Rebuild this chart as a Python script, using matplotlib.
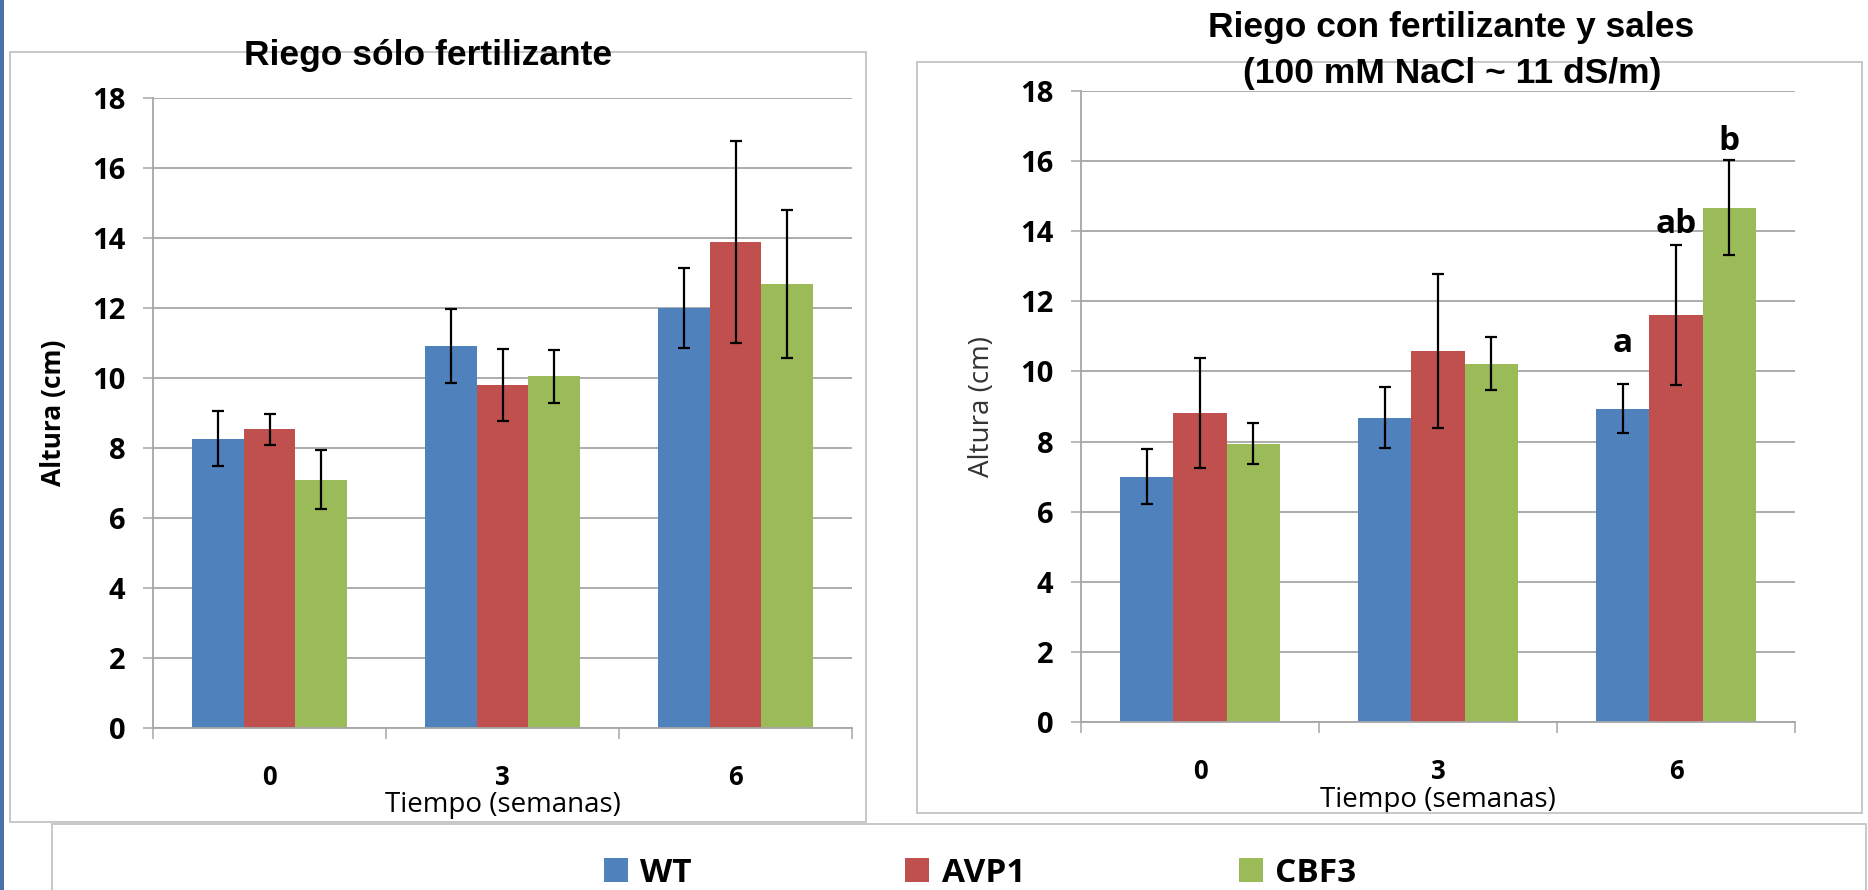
import numpy as np
import matplotlib
matplotlib.use("Agg")
import matplotlib.pyplot as plt
from matplotlib.patches import Rectangle, Patch

# ----------------------------
# Data
# ----------------------------
weeks = ["0", "3", "6"]
series = ["WT", "AVP1", "CBF3"]
colors = ["#4F81BD", "#C0504D", "#9BBB59"]

# Riego solo fertilizante
fert_means = {
    "WT": [8.27, 10.92, 12.0],
    "AVP1": [8.54, 9.8, 13.89],
    "CBF3": [7.09, 10.05, 12.68],
}
fert_err = {
    "WT": [0.78, 1.06, 1.15],
    "AVP1": [0.44, 1.03, 2.88],
    "CBF3": [0.84, 0.75, 2.12],
}

# Riego con fertilizante y sales
salt_means = {
    "WT": [7.0, 8.68, 8.94],
    "AVP1": [8.82, 10.58, 11.6],
    "CBF3": [7.94, 10.22, 14.67],
}
salt_err = {
    "WT": [0.78, 0.87, 0.7],
    "AVP1": [1.57, 2.2, 2.0],
    "CBF3": [0.58, 0.76, 1.36],
}

# letras de significancia (semana 6, panel con sales)
sig_labels = ["a", "ab", "b"]
sig_y = [10.8, 14.2, 16.55]

yticks = [0, 2, 4, 6, 8, 10, 12, 14, 16, 18]

CAL = ["Open Sans", "DejaVu Sans"]
ARIAL = ["Liberation Sans", "DejaVu Sans"]
GRID = "#a6a6a6"

W, H = 1868, 890
fig = plt.figure(figsize=(W / 100, H / 100), dpi=100)


def fx(px):
    return px / W


def fy(py):
    return 1 - py / H


# ----------------------------
# Frames
# ----------------------------
fig.patches.append(Rectangle((0, 0), fx(4), 1, transform=fig.transFigure,
                             facecolor="#4a72a6", edgecolor="none"))
for (x0, y0, x1, y1) in [(10, 52, 866, 822), (917, 62, 1862, 813), (52, 824, 1866, 900)]:
    fig.patches.append(Rectangle((fx(x0), fy(y1)), fx(x1 - x0), (y1 - y0) / H,
                                 transform=fig.transFigure, facecolor="none",
                                 edgecolor="#c4c4c4", linewidth=1.3))


# ----------------------------
# Helper
# ----------------------------
def draw_panel(rect, means, errs, ylabel_bold):
    x0, ytop, x1, ybot = rect
    ax = fig.add_axes([fx(x0), fy(ybot), fx(x1 - x0), (ybot - ytop) / H])
    x = np.arange(len(weeks))
    bw = 0.223
    for i, s in enumerate(series):
        pos = x + (i - 1) * bw
        ax.bar(pos, means[s], width=bw, color=colors[i], linewidth=0, zorder=2)
        ax.errorbar(pos, means[s], yerr=errs[s], fmt="none", ecolor="black",
                    elinewidth=1.6, capsize=4.5, capthick=1.6, zorder=3)

    ax.set_xlim(-0.5, 2.5)
    ax.set_ylim(0, 18)
    ax.set_yticks(yticks)
    ax.set_yticklabels([str(t) for t in yticks], fontfamily=CAL,
                       fontweight="bold", fontsize=21)
    ax.set_xticks(x)
    ax.set_xticklabels(weeks, fontfamily=CAL, fontweight="bold", fontsize=18.5)
    ax.set_xticks([-0.5, 0.5, 1.5, 2.5], minor=True)
    ax.tick_params(axis="x", which="major", length=0, pad=26)
    ax.tick_params(axis="x", which="minor", length=8, width=1.1, color=GRID)
    ax.tick_params(axis="y", length=7, width=1.1, color=GRID, pad=13)

    ax.grid(axis="y", color=GRID, linewidth=1.3, zorder=0)
    ax.set_axisbelow(True)
    for sp in ["top", "right"]:
        ax.spines[sp].set_visible(False)
    for sp in ["left", "bottom"]:
        ax.spines[sp].set_color(GRID)
        ax.spines[sp].set_linewidth(1.3)

    ax.text(0.5, -0.123, "Tiempo (semanas)", transform=ax.transAxes,
            ha="center", va="center", fontsize=20, fontfamily=CAL)
    if ylabel_bold:
        ax.text(-0.143, 0.5, "Altura (cm)", transform=ax.transAxes, rotation=90,
                ha="center", va="center", fontsize=19, fontfamily=CAL,
                fontweight="bold")
    else:
        ax.text(-0.139, 0.5, "Altura (cm)", transform=ax.transAxes, rotation=90,
                ha="center", va="center", fontsize=20, fontfamily=CAL,
                color="#333333")
    return ax


# ----------------------------
# Panels
# ----------------------------
ax1 = draw_panel((153, 98, 852, 728), fert_means, fert_err, True)
ax2 = draw_panel((1081, 91, 1795, 722), salt_means, salt_err, False)

for i, (lab, yv) in enumerate(zip(sig_labels, sig_y)):
    ax2.text(2 + (i - 1) * 0.223, yv, lab, ha="center", va="center",
             fontsize=24, fontfamily=CAL, fontweight="bold")

fig.text(fx(428), fy(56), "Riego sólo fertilizante", ha="center", va="center",
         fontsize=25.5, fontweight="bold", fontfamily=ARIAL)
fig.text(fx(1451), fy(28), "Riego con fertilizante y sales", ha="center",
         va="center", fontsize=25.5, fontweight="bold", fontfamily=ARIAL)
fig.text(fx(1452), fy(74), "(100 mM NaCl ~ 11 dS/m)", ha="center",
         va="center", fontsize=25.5, fontweight="bold", fontfamily=ARIAL)

# ----------------------------
# Legend
# ----------------------------
handles = [Patch(facecolor=c, edgecolor="none") for c in colors]
fig.legend(handles, series, loc="center", bbox_to_anchor=(fx(980), fy(873)),
           ncol=3, frameon=False, handlelength=0.72, handleheight=0.72,
           handletextpad=0.38, columnspacing=6.4,
           prop={"family": CAL, "weight": "bold", "size": 24})

fig.savefig("out.png", dpi=100)
print("saved out.png")
